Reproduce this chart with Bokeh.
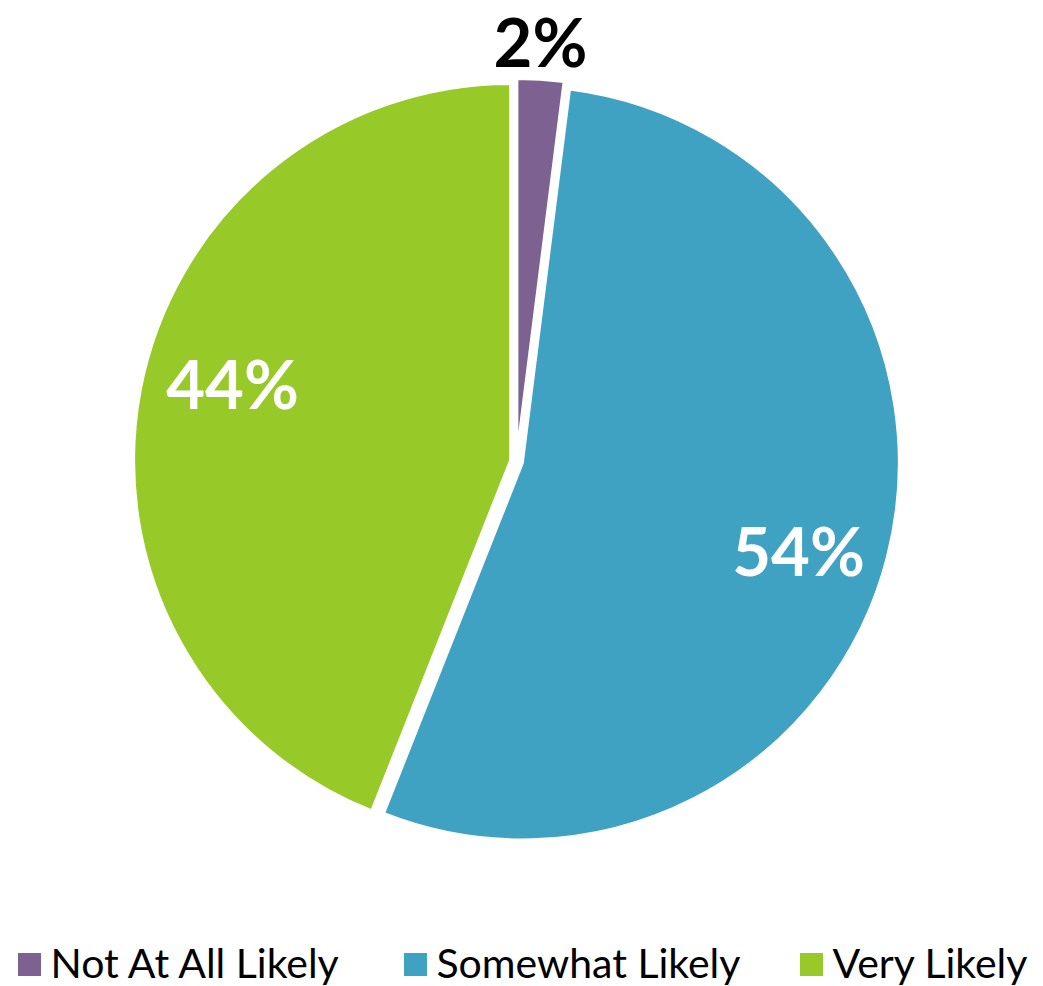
import math
from bokeh.plotting import figure
from bokeh.models import Range1d, ColumnDataSource
from bokeh.core.properties import value
from bokeh.embed import file_html
from bokeh.resources import INLINE

categories = ["Not At All Likely", "Somewhat Likely", "Very Likely"]
shares = [2, 54, 44]
labels = ["2%", "54%", "44%"]
colors = ["#7d6291", "#40a2c2", "#97c928"]

W, H = 1043, 986
TOP = 986
p = figure(width=W, height=H, output_backend="svg", toolbar_location=None,
           x_range=Range1d(0, W), y_range=Range1d(TOP - H, TOP), min_border=0)
p.axis.visible = False
p.grid.visible = False
p.outline_line_color = None
p.background_fill_color = "white"

cx, cy = 516, TOP - 461
r = 377
explode = 6

total = sum(shares)
xs, ys, sa, ea = [], [], [], []
cum = 0
label_pos = [(540, 40, "black"), (798, 549, "white"), (232, 382, "white")]
for i, s in enumerate(shares):
    a0 = math.pi / 2 - 2 * math.pi * cum / total
    a1 = math.pi / 2 - 2 * math.pi * (cum + s) / total
    mid = (a0 + a1) / 2
    xs.append(cx + explode * math.cos(mid))
    ys.append(cy + explode * math.sin(mid))
    sa.append(a0)
    ea.append(a1)
    cum += s

src = ColumnDataSource(dict(x=xs, y=ys, start=sa, end=ea, color=colors, cat=categories))
p.wedge(x="x", y="y", radius=r, start_angle="start", end_angle="end", direction="clock",
        fill_color="color", line_color="white", line_width=3, source=src)

lsrc = ColumnDataSource(dict(x=[q[0] for q in label_pos], y=[TOP - q[1] for q in label_pos],
                             t=labels, c=[q[2] for q in label_pos]))
p.text(x="x", y="y", text="t", text_color="c", source=lsrc, text_align="center",
       text_baseline="middle", text_font=value("Lato"), text_font_style="bold",
       text_font_size="67px")

# legend
sq_x = [29, 415, 811]
tx = [50, 436, 832]
p.rect(x=sq_x, y=[TOP - 964] * 3, width=23, height=23, width_units="screen",
       height_units="screen", fill_color=colors, line_color=None)
p.text(x=tx, y=[TOP - 962] * 3, text=categories, text_color="black", text_align="left",
       text_baseline="middle", text_font=value("Lato"), text_font_size="41px")

open("out.html", "w").write(file_html(p, INLINE))
